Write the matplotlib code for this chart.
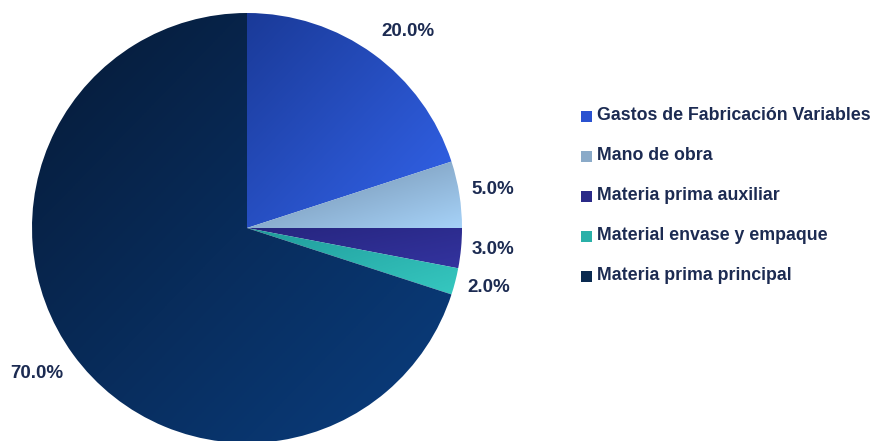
import numpy as np
import matplotlib
matplotlib.use("Agg")
import matplotlib.pyplot as plt
from matplotlib.colors import LinearSegmentedColormap
from matplotlib.patches import Rectangle

# Cost structure shares (percent)
categories = [
    "Gastos de Fabricación Variables",
    "Mano de obra",
    "Materia prima auxiliar",
    "Material envase y empaque",
    "Materia prima principal",
]
shares = [20.0, 5.0, 3.0, 2.0, 70.0]

# (dark, light) gradient ends for every slice
dark_colors = ["#1a3a98", "#6f8aa6", "#26257e", "#1f9a9a", "#061a36"]
light_colors = ["#3364ec", "#a6d2f8", "#33339f", "#36c8c0", "#0a3e80"]
legend_colors = ["#2a52d0", "#8aaac8", "#2a2a88", "#2ab0a8", "#0a2a50"]

label_pos = [(408, 410), (493, 252), (493, 192), (489, 154), (37, 67)]

fig = plt.figure(figsize=(8.75, 4.41), dpi=100)
ax = fig.add_axes([0, 0, 1, 1])

cx, cy, r = 247, 213, 215
wedges, _ = ax.pie(shares, startangle=90, counterclock=False,
                   center=(cx, cy), radius=r, frame=True,
                   wedgeprops=dict(linewidth=0))

# diagonal gradient (top-left dark -> bottom-right light) inside each wedge
n = 256
gx, gy = np.meshgrid(np.linspace(0, 1, n), np.linspace(0, 1, n))
grad = (gx + gy) / 2.0
for w, c0, c1 in zip(wedges, dark_colors, light_colors):
    w.set_facecolor("none")
    verts = w.get_patch_transform().transform(w.get_path().vertices)
    x0, y0 = verts.min(axis=0)
    x1, y1 = verts.max(axis=0)
    cmap = LinearSegmentedColormap.from_list("g", [c0, c1])
    im = ax.imshow(grad, cmap=cmap, extent=(x0, x1, y0, y1),
                   origin="upper", interpolation="bilinear", zorder=1)
    im.set_clip_path(w)

ax.set_xlim(0, 875)
ax.set_ylim(0, 441)
ax.set_aspect("equal")
ax.axis("off")

for s, (x, y) in zip(shares, label_pos):
    ax.text(x, y, f"{s:.1f}%", fontsize=13.5, fontweight="bold",
            family="Liberation Sans", color="#1c2b52",
            ha="center", va="center")

# legend
for i, (name, col) in enumerate(zip(categories, legend_colors)):
    y = 441 - (116 + i * 40)
    ax.add_patch(Rectangle((581, y - 5.5), 11, 11, facecolor=col,
                           edgecolor="none", zorder=3))
    ax.text(597, y, name, fontsize=12.8, fontweight="bold",
            family="Liberation Sans", color="#1c2b52",
            ha="left", va="center")

fig.savefig("out.png", dpi=100)
